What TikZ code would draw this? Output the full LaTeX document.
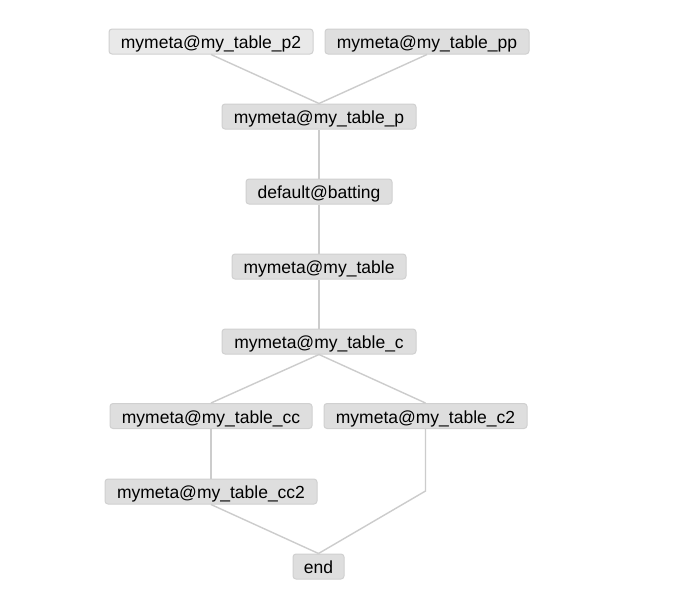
\documentclass[tikz,border=0pt]{standalone}
\usepackage{fontspec}
\setmainfont{Liberation Sans}
\begin{document}
\begin{tikzpicture}[x=1pt,y=-1pt,
  box/.style={draw=boxline, fill=boxfill, rounded corners=3pt, line width=1pt,
    minimum height=25pt, inner sep=0pt, text height=18pt, text depth=4pt,
    font=\fontsize{17.5}{20}\selectfont, text=black},
  link/.style={draw=edgecol, line width=1.4pt}]
\definecolor{boxfill}{HTML}{DEDEDE}
\definecolor{boxlight}{HTML}{E9E9E9}
\definecolor{boxline}{HTML}{D0D0D0}
\definecolor{edgecol}{HTML}{CCCCCC}
\useasboundingbox[fill=white] (0,0) rectangle (679,614);

% table nodes
\node[box, fill=boxlight, minimum width=204pt] (p2)  at (211,41.5)  {mymeta@my\_table\_p2};
\node[box, minimum width=204pt] (pp)  at (427,41.5)  {mymeta@my\_table\_pp};
\node[box, minimum width=194pt] (p)   at (319,116.5) {mymeta@my\_table\_p};
\node[box, minimum width=146pt] (bat) at (319,191.5) {default@batting};
\node[box, minimum width=174pt] (mt)  at (319,266.5) {mymeta@my\_table};
\node[box, minimum width=194pt] (c)   at (319,341.5) {mymeta@my\_table\_c};
\node[box, minimum width=202pt] (cc)  at (211,416)   {mymeta@my\_table\_cc};
\node[box, minimum width=203pt] (c2)  at (425.5,416) {mymeta@my\_table\_c2};
\node[box, minimum width=212pt] (cc2) at (211,491.5) {mymeta@my\_table\_cc2};
\node[box, minimum width=51pt]  (end) at (318.5,566.5) {end};
\coordinate (bend) at (425.5,491);

% links
\path[link] (p2.south) -- (p.north);
\path[link] (pp.south) -- (p.north);
\path[link] (p.south) -- (bat.north);
\path[link] (bat.south) -- (mt.north);
\path[link] (mt.south) -- (c.north);
\path[link] (c.south) -- (cc.north);
\path[link] (c.south) -- (c2.north);
\path[link] (cc.south) -- (cc2.north);
\path[link] (cc2.south) -- (end.north);
\path[link] (c2.south) -- (bend) -- (end.north);
\end{tikzpicture}
\end{document}
